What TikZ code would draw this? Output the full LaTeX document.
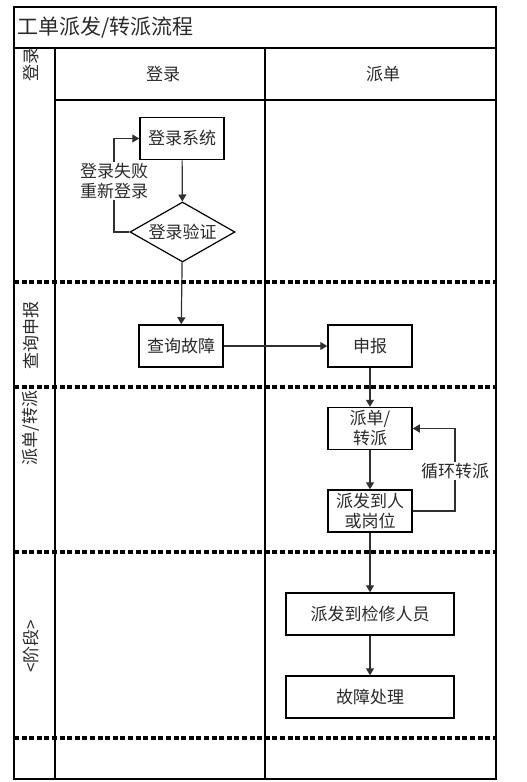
\documentclass[tikz,border=0pt]{standalone}
\usepackage{fontspec}
\setmainfont{Noto Sans CJK SC}
\usetikzlibrary{shapes.geometric,arrows.meta}
\newcommand\myfnt{\fontsize{17}{20}\selectfont}
\newcommand\mytitlefnt{\fontsize{21}{24}\selectfont}
\definecolor{txt}{HTML}{2A2A2A}
\definecolor{linec}{HTML}{303030}
\begin{document}
\begin{tikzpicture}[x=1pt,y=-1pt,
  frame/.style={line width=1.6pt},
  sep/.style={line width=3.2pt, dash pattern=on 5pt off 2.6pt},
  stepbox/.style={draw, line width=1.5pt, minimum width=84pt, minimum height=42pt, inner sep=0pt, align=center, font=\myfnt, text=txt},
  widebox/.style={stepbox, minimum width=168pt},
  decide/.style={diamond, aspect=1.75, draw, line width=1.2pt, minimum width=105pt, minimum height=60pt, inner sep=0pt, font=\myfnt, text=txt},
  flow/.style={draw=linec, line width=1.2pt, -{Triangle[length=7pt,width=8pt]}},
  lbl/.style={fill=white, align=center, inner sep=1pt, font=\myfnt, text=txt},
  lane/.style={rotate=90, font=\myfnt, text=txt},
  head/.style={font=\myfnt, text=txt}]
\useasboundingbox (0,0) rectangle (527,782);
\fill[white] (0,0) rectangle (527,782);

% frame and grid
\draw[frame] (14,7) rectangle (496,779);
\draw[frame] (14,48) -- (496,48);
\draw[frame] (55,48) -- (55,779);
\draw[frame] (265,48) -- (265,779);
\draw[frame] (55,100) -- (496,100);
\foreach \yy in {282,387,552,738} \draw[sep] (14,\yy) -- (496,\yy);

% title and headers
\node[anchor=west, font=\mytitlefnt, text=txt, inner sep=0pt] (title) at (17,27.5) {工单派发/转派流程};
\node[head] (h1) at (163,74) {登录};
\node[head] (h2) at (383,74) {派单};

% lane labels
\node[lane] (l1) at (31,64) {登录};
\node[lane] (l2) at (31,335) {查询申报};
\node[lane] (l3) at (31,428) {派单/转派};
\node[lane] (l4) at (31,646) {<阶段>};

% nodes
\node[stepbox] (login) at (182,138.5) {登录系统};
\node[decide] (verify) at (182.5,232) {登录验证};
\node[stepbox] (query) at (181,346) {查询故障};
\node[stepbox] (report) at (370,346) {申报};
\node[stepbox] (dispatch) at (370,428.5) {派单/\\转派};
\node[stepbox] (assign) at (370,511) {派发到人\\或岗位};
\node[widebox] (repair) at (370,614) {派发到检修人员};
\node[widebox] (handle) at (370,697) {故障处理};

% connectors
\draw[flow] (login) -- (verify);
\draw[flow] (verify) -- (query);
\draw[flow] (query) -- (report);
\draw[flow] (report) -- (dispatch);
\draw[flow] (dispatch) -- (assign);
\draw[flow] (assign) -- (repair);
\draw[flow] (repair) -- (handle);

\coordinate (lc) at (114,181);
\draw[flow] (verify.west) -| (lc) |- (login.west);
\node[lbl] (faillbl) at (lc) {登录失败\\重新登录};

\coordinate (rc) at (455,471);
\draw[flow] (assign.east) -| (rc) |- (dispatch.east);
\node[lbl] (looplbl) at (rc) {循环转派};
\end{tikzpicture}
\end{document}
